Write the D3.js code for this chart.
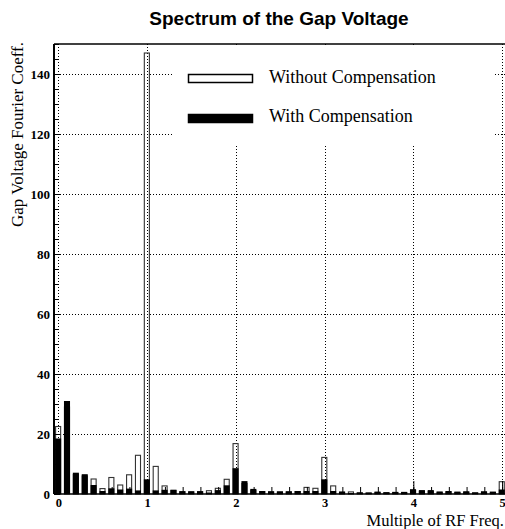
<!DOCTYPE html>
<html>
<head>
<meta charset="utf-8">
<script src="https://cdn.jsdelivr.net/npm/d3@7"></script>
<style>
  body { margin: 0; background: white; }
  svg { display: block; }
</style>
</head>
<body>
<div id="chart"></div>
<script>
// bin centres, multiples of RF frequency (step 0.1)
var freqBins = d3.range(0, 51).map(function(i) { return +(i * 0.1).toFixed(1); });

var withoutComp = [
  22.5, 29.0, 6.5, 6.0, 5.0, 1.8, 5.5, 3.0, 6.4, 12.9,
  147.0, 9.2, 2.7, 1.2, 0.8, 0.7, 0.8, 1.1, 1.9, 4.9,
  16.8, 3.5, 1.2, 0.8, 0.7, 0.6, 0.7, 0.8, 2.2, 1.9,
  12.2, 2.7, 0.6, 0.7, 0.4, 0.3, 0.5, 0.4, 0.5, 0.5,
  1.2, 0.9, 0.9, 0.6, 0.7, 0.5, 0.6, 0.4, 0.6, 0.5,
  4.1
];

var withComp = [
  18.5, 31.0, 7.1, 6.6, 3.0, 1.0, 1.9, 1.5, 1.8, 1.2,
  4.9, 1.2, 1.4, 1.4, 0.9, 0.9, 0.9, 0.5, 1.3, 2.9,
  8.6, 4.3, 1.7, 1.0, 0.9, 0.9, 0.9, 1.0, 1.0, 1.0,
  4.9, 1.0, 0.8, 0.3, 0.5, 0.5, 0.8, 0.6, 0.7, 0.7,
  1.6, 1.3, 1.3, 0.8, 1.0, 0.8, 0.9, 0.5, 0.9, 0.8,
  1.5
];

var xMajorTicks = [0, 1, 2, 3, 4, 5];
var xMinorTicks = d3.range(0, 26).map(function(i) { return +(i * 0.2).toFixed(1); });
var yMajorTicks = [0, 20, 40, 60, 80, 100, 120, 140];
var yMinorTicks = d3.range(0, 31).map(function(i) { return i * 5; });

var seriesNames = ["Without Compensation", "With Compensation"];

var gWidth = 505;
var gHeight = 529;
var margin = { top: 44, right: -1.5, bottom: 35, left: 54 };

var serif = "'Liberation Serif', 'DejaVu Serif', serif";
var sans = "'Liberation Sans', Arial, sans-serif";

var svg = d3.select("div#chart")
  .append("svg")
  .attr("width", gWidth)
  .attr("height", gHeight);

var x = d3.scaleLinear()
  .domain([-0.05, 5.05])
  .range([margin.left, gWidth - margin.right]);

var y = d3.scaleLinear()
  .domain([0, 150])
  .range([gHeight - margin.bottom, margin.top]);

var barLeft = -0.032;
var barRight = 0.025;

// grid
var grid = svg.append("g")
  .attr("stroke", "#000")
  .attr("stroke-width", 1)
  .attr("stroke-dasharray", "1,2");

grid.selectAll(".hgrid")
  .data(yMajorTicks.slice(1))
  .enter().append("line")
  .attr("class", "hgrid")
  .attr("x1", x.range()[0])
  .attr("x2", gWidth)
  .attr("y1", function(d) { return Math.round(y(d)) + 0.5; })
  .attr("y2", function(d) { return Math.round(y(d)) + 0.5; });

grid.selectAll(".vgrid")
  .data(xMajorTicks)
  .enter().append("line")
  .attr("class", "vgrid")
  .attr("x1", function(d) { return Math.round(x(d)) + 0.5; })
  .attr("x2", function(d) { return Math.round(x(d)) + 0.5; })
  .attr("y1", y.range()[1])
  .attr("y2", y.range()[0]);

// legend background hides grid behind it
svg.append("rect")
  .attr("x", 172)
  .attr("y", 47)
  .attr("width", 322)
  .attr("height", 99)
  .attr("fill", "white");

// bars: without compensation (hollow) then with compensation (filled)
var data = freqBins.map(function(f, i) {
  return { f: f, without: withoutComp[i], withc: withComp[i] };
});

svg.selectAll(".bar-without")
  .data(data)
  .enter().append("rect")
  .attr("class", "bar-without")
  .attr("x", function(d) { return x(d.f + barLeft); })
  .attr("width", function() { return x(barRight) - x(barLeft); })
  .attr("y", function(d) { return y(d.without); })
  .attr("height", function(d) { return y(0) - y(d.without); })
  .attr("fill", "none")
  .attr("stroke", "#333")
  .attr("stroke-width", 1.1);

svg.selectAll(".bar-with")
  .data(data)
  .enter().append("rect")
  .attr("class", "bar-with")
  .attr("x", function(d) { return x(d.f + barLeft) - 0.5; })
  .attr("width", function() { return x(barRight) - x(barLeft) + 1; })
  .attr("y", function(d) { return y(d.withc); })
  .attr("height", function(d) { return y(0) - y(d.withc); })
  .attr("fill", "#000");

// x axis
svg.append("g")
  .attr("transform", "translate(0," + y(0) + ")")
  .call(d3.axisBottom(x).tickValues(xMinorTicks).tickSize(-7).tickFormat(""))
  .call(function(g) { g.select(".domain").remove(); });

var xMajor = svg.append("g")
  .attr("transform", "translate(0," + y(0) + ")")
  .call(d3.axisBottom(x).tickValues(xMajorTicks).tickSize(-13).tickPadding(4).tickFormat(d3.format("d")));

xMajor.select(".domain")
  .attr("d", "M" + x.range()[0] + ",0H" + gWidth)
  .attr("stroke-width", 1.6);

xMajor.selectAll("text")
  .attr("font-family", serif)
  .attr("font-weight", "bold")
  .attr("font-size", 12.5)
  .attr("fill", "#000");

// y axis
svg.append("g")
  .attr("transform", "translate(" + x.range()[0] + ",0)")
  .call(d3.axisLeft(y).tickValues(yMinorTicks).tickSize(-4).tickFormat(""))
  .call(function(g) { g.select(".domain").remove(); });

var yAxisG = svg.append("g")
  .attr("transform", "translate(" + x.range()[0] + ",0)")
  .call(d3.axisLeft(y).tickValues(yMajorTicks).tickSize(-6).tickPadding(4).tickFormat(d3.format("d")));

yAxisG.select(".domain")
  .attr("d", "M0," + y.range()[0] + "V" + y.range()[1])
  .attr("stroke-width", 2);

yAxisG.selectAll("text")
  .attr("font-family", serif)
  .attr("font-weight", "bold")
  .attr("font-size", 13)
  .attr("fill", "#000");

// top frame line
svg.append("line")
  .attr("x1", x.range()[0])
  .attr("x2", gWidth)
  .attr("y1", y.range()[1])
  .attr("y2", y.range()[1])
  .attr("stroke", "#000")
  .attr("stroke-width", 1.5);

// legend
var legend = svg.append("g");
var legendRows = [
  { name: seriesNames[0], fill: "white", y: 74, ty: 83 },
  { name: seriesNames[1], fill: "black", y: 114, ty: 122 }
];

legend.selectAll("rect")
  .data(legendRows)
  .enter().append("rect")
  .attr("x", 188.5)
  .attr("y", function(d) { return d.y + 0.5; })
  .attr("width", 64)
  .attr("height", 8)
  .attr("fill", function(d) { return d.fill; })
  .attr("stroke", "#000")
  .attr("stroke-width", 1.5);

legend.selectAll("text")
  .data(legendRows)
  .enter().append("text")
  .attr("x", 269)
  .attr("y", function(d) { return d.ty; })
  .attr("font-family", serif)
  .attr("font-size", 18)
  .attr("fill", "#000")
  .text(function(d) { return d.name; });

// titles
svg.append("text")
  .attr("x", 279)
  .attr("y", 25)
  .attr("text-anchor", "middle")
  .attr("font-family", sans)
  .attr("font-weight", "bold")
  .attr("font-size", 19)
  .text("Spectrum of the Gap Voltage");

svg.append("text")
  .attr("x", 504)
  .attr("y", 526)
  .attr("text-anchor", "end")
  .attr("font-family", serif)
  .attr("font-size", 16.5)
  .text("Multiple of RF Freq.");

svg.append("text")
  .attr("transform", "translate(23,42) rotate(-90)")
  .attr("text-anchor", "end")
  .attr("font-family", serif)
  .attr("font-size", 17)
  .text("Gap Voltage Fourier Coeff.");
</script>
</body>
</html>
